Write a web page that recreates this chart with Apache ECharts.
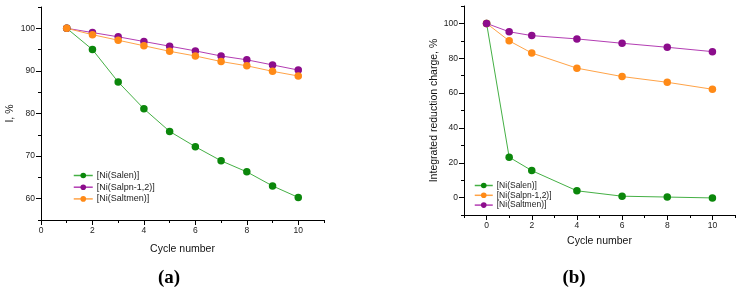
<!DOCTYPE html>
<html>
<head>
<meta charset="utf-8">
<script src="https://cdn.jsdelivr.net/npm/echarts@6/dist/echarts.min.js"></script>
<style>
  html, body { margin: 0; padding: 0; background: #fff; }
  #chart { width: 744px; height: 297px; }
</style>
</head>
<body>
<div id="chart"></div>
<script>
const chart = echarts.init(document.getElementById('chart'));

// --- data (a) ---
const cyclesA = [1, 2, 3, 4, 5, 6, 7, 8, 9, 10];
const salenA = [100, 95.0, 87.4, 81.1, 75.8, 72.2, 68.9, 66.3, 63.0, 60.3];
const salpnA = [100, 99.0, 98.0, 96.9, 95.8, 94.7, 93.5, 92.6, 91.4, 90.2];
const saltmenA = [100, 98.5, 97.2, 95.9, 94.6, 93.5, 92.2, 91.2, 89.9, 88.8];

// --- data (b) ---
const cyclesB = [0, 1, 2, 4, 6, 8, 10];
const salenB = [100, 23.2, 15.5, 3.9, 0.8, 0.3, -0.2];
const salpnB = [100, 90.0, 83.0, 74.3, 69.5, 66.2, 62.2];
const saltmenB = [100, 95.2, 93.0, 91.1, 88.6, 86.3, 83.8];

// tick labels
const xTicksA = [0, 2, 4, 6, 8, 10];
const yTicksA = [60, 70, 80, 90, 100];
const xTicksB = [0, 2, 4, 6, 8, 10];
const yTicksB = [0, 20, 40, 60, 80, 100];

const names = ['[Ni(Salen)]', '[Ni(Salpn-1,2)]', '[Ni(Saltmen)]'];

const GREEN = { dot: '#0b870b', line: '#45b045' };
const PURPLE = { dot: '#8c0d8c', line: '#b33db3' };
const ORANGE = { dot: '#ff8a17', line: '#ffa347' };

const FONT = 'Liberation Sans';

function zip(xs, ys) { return xs.map((x, i) => [x, ys[i]]); }

function lineSeries(name, xs, ys, col, idx) {
  return {
    name, type: 'line', xAxisIndex: idx, yAxisIndex: idx,
    data: zip(xs, ys),
    symbol: 'circle', symbolSize: 7.5,
    itemStyle: { color: col.dot },
    lineStyle: { color: col.line, width: 1 },
    emphasis: { disabled: true },
    animation: false
  };
}

// main axis: minor ticks only; overlay axis: major ticks + labels
function axesPair(pos, grid, min, max, minorStep, majors, name, nameGap) {
  const base = {
    gridIndex: grid, type: 'value', min, max, position: pos,
    splitLine: { show: false }
  };
  const main = Object.assign({}, base, {
    interval: minorStep,
    axisLine: { show: true, onZero: false, lineStyle: { color: '#000', width: 1 } },
    axisTick: { show: true, length: 3, lineStyle: { color: '#000' } },
    axisLabel: { show: false },
    name, nameLocation: 'middle', nameGap,
    nameTextStyle: { fontFamily: FONT, fontSize: 10.5, color: '#111' }
  });
  const over = Object.assign({}, base, {
    axisLine: { show: false, onZero: false },
    axisTick: { show: true, length: 5, customValues: majors, lineStyle: { color: '#000' } },
    axisLabel: { show: true, customValues: majors, margin: 6, fontFamily: FONT, fontSize: 8.5, color: '#222' }
  });
  return [main, over];
}

const xA = axesPair('bottom', 0, 0, 11, 1, xTicksA, 'Cycle number', 24);
const yA = axesPair('left', 0, 55, 105, 5, yTicksA, 'I, %', 25);
const xB = axesPair('bottom', 1, -1, 11, 1, xTicksB, 'Cycle number', 21);
const yB = axesPair('left', 1, -10, 110, 10, yTicksB, 'Integrated reduction charge, %', 24);

function legendItem(name, col) {
  return { name, itemStyle: { color: col.dot }, lineStyle: { color: col.line, width: 1.5 } };
}

chart.setOption({
  backgroundColor: '#fff',
  animation: false,
  title: [
    { text: '(a)', left: 164, top: 264, textAlign: 'center',
      textStyle: { fontFamily: 'Liberation Serif', fontSize: 19, fontWeight: 'bold', color: '#000' } },
    { text: '(b)', left: 569, top: 264, textAlign: 'center',
      textStyle: { fontFamily: 'Liberation Serif', fontSize: 19, fontWeight: 'bold', color: '#000' } }
  ],
  grid: [
    { left: 41, top: 7, width: 283, height: 213 },
    { left: 464, top: 6, width: 271, height: 209 }
  ],
  xAxis: [xA[0], xA[1], xB[0], xB[1]],
  yAxis: [yA[0], yA[1], yB[0], yB[1]],
  legend: [
    {
      orient: 'vertical', left: 68, top: 166, itemWidth: 19, itemHeight: 7, itemGap: 2.7,
      selectedMode: false,
      textStyle: { fontFamily: FONT, fontSize: 9, color: '#222', padding: [0, 0, 0, -1] },
      data: [legendItem(names[0], GREEN), legendItem(names[1], PURPLE), legendItem(names[2], ORANGE)]
    },
    {
      orient: 'vertical', left: 469, top: 176, itemWidth: 18, itemHeight: 7, itemGap: 0.8,
      selectedMode: false,
      textStyle: { fontFamily: FONT, fontSize: 8.5, color: '#222', padding: [0, 0, 0, -1] },
      data: [legendItem(names[0], GREEN), legendItem(names[1], ORANGE), legendItem(names[2], PURPLE)]
    }
  ],
  series: [
    lineSeries(names[0], cyclesA, salenA, GREEN, 0),
    lineSeries(names[1], cyclesA, salpnA, PURPLE, 0),
    lineSeries(names[2], cyclesA, saltmenA, ORANGE, 0),
    Object.assign(lineSeries(names[0], cyclesB, salenB, GREEN, 2), { yAxisIndex: 2 }),
    Object.assign(lineSeries(names[1], cyclesB, salpnB, ORANGE, 2), { yAxisIndex: 2 }),
    Object.assign(lineSeries(names[2], cyclesB, saltmenB, PURPLE, 2), { yAxisIndex: 2 })
  ]
});

window.addEventListener('resize', () => chart.resize());
</script>
</body>
</html>
